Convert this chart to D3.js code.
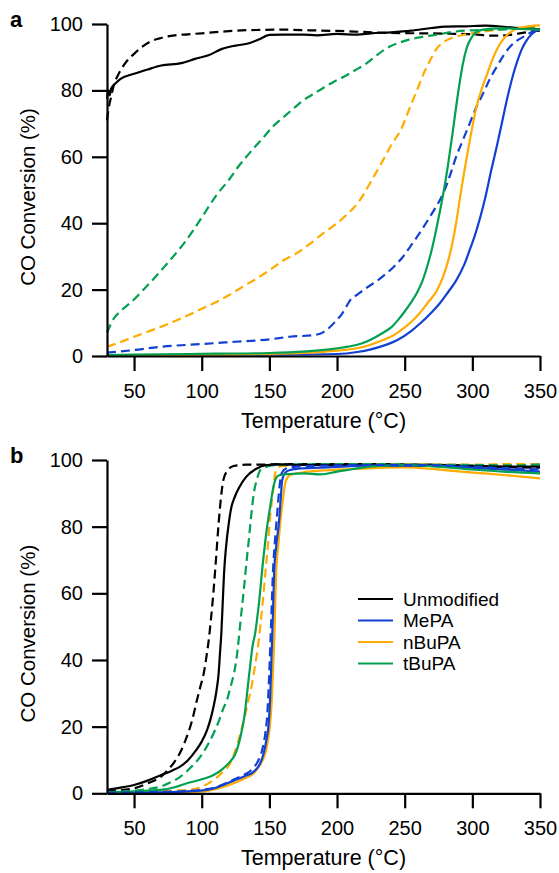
<!DOCTYPE html>
<html>
<head>
<meta charset="utf-8">
<script src="https://cdn.jsdelivr.net/npm/d3@7"></script>
<style>
    body { margin: 0; background: #fff; }
    svg text { font-family: "Liberation Sans", Arial, sans-serif; fill: #000; }
</style>
</head>
<body>
<div class="chart"></div>
<script>
// values: [temperature °C, CO conversion %]
const aUnmodSolid = [[30,77.5],[31,80],[32,78.5],[33,80.5],[36,82],[40,83.5],[50,85],[60,86.3],[70,87.5],[85,88.2],[95,89.5],[105,90.6],[115,92.5],[125,93.5],[135,94.2],[142,95.3],[150,96.7],[160,96.8],[175,96.8],[185,96.6],[200,97],[215,96.8],[225,97.2],[240,97.5],[255,98],[270,98.8],[280,99.2],[295,99.3],[310,99.5],[325,99.1],[340,98.6],[350,98.4]];
const aUnmodDashed = [[30,71],[31,74],[33,78],[35,81.5],[38,84.5],[40,86],[45,89],[50,91],[55,92.8],[62,94.7],[70,95.8],[80,96.6],[90,96.9],[100,97.2],[115,97.7],[125,98],[140,98.2],[160,98.3],[180,98.1],[200,97.9],[220,97.6],[240,97.3],[260,97.2],[280,97.1],[300,96.9],[315,96.5],[325,96.6],[335,97.2],[345,97.8],[350,98]];
const aMePASolid = [[30,0.2],[100,0.3],[150,0.4],[200,0.6],[215,1.2],[225,2],[235,3.2],[245,4.9],[255,7.6],[262,10],[270,13.2],[276,15.9],[282,19.2],[288,22.7],[294,27.5],[298,31.9],[302,36.5],[306,42],[310,48.5],[314,56],[318,63],[322,70.5],[326,78],[330,84.5],[333,88.5],[337,92.8],[340,95],[344,97],[347.5,98],[350,98.5]];
const aMePADashed = [[30,1],[50,1.8],[70,2.8],[100,3.6],[125,4.3],[150,5],[165,5.8],[183,6.3],[190,7.2],[195,8.8],[199,10.5],[203,12.3],[207,15],[210,17],[215,18.5],[220,20],[232,23.4],[242,26.9],[248,29.5],[254,32.9],[259,35.8],[264,38.9],[269,42.2],[274,45.5],[279,49.5],[284,55],[288,60],[293,65],[298,70],[303,75],[308,79.1],[313,83.5],[318,87.1],[323,90.5],[328,93.2],[333,95],[338,96.2],[343,97.4],[347.5,98.2],[350,98.6]];
const aNBuPASolid = [[30,0.2],[100,0.4],[150,0.6],[200,1.6],[220,2.8],[234,4.8],[242,6.3],[249,8.3],[255,10.3],[261,12.9],[267,16],[274,19.9],[278,23.5],[282,28.5],[285,33.5],[288,40],[291,48],[294,55.5],[297,62.5],[300,69],[303,75],[307,80.5],[311,85],[315,89.5],[319,93],[324,96],[330,98],[338,99.1],[350,99.6]];
const aNBuPADashed = [[30,2.8],[40,4.2],[50,5.8],[60,7.3],[70,8.8],[80,10.5],[90,12.3],[100,14.2],[110,16.1],[120,18.3],[130,20.8],[140,23.2],[150,25.8],[160,28.7],[170,30.9],[180,33.8],[190,37],[200,40],[207,42.5],[212,44.5],[217,47],[225,52.5],[234,59],[240,63.5],[247,68],[254,75],[261,82],[265,86],[269,89.2],[273,92.2],[277,94],[283,95.5],[289,96.3],[298,97.1],[308,97.7],[320,98.3],[335,98.9],[350,99.4]];
const aTBuPASolid = [[30,0.3],[70,0.5],[110,0.7],[150,0.9],[175,1.3],[200,2.3],[208,2.8],[215,3.4],[222,4.4],[228,5.6],[234,7],[240,8.6],[245,10.8],[250,13.4],[255,16.3],[259,19],[263,22.5],[267,27.5],[270,32],[273,37.5],[276,43.5],[279,50],[282,57.5],[285,66],[288,75],[290.5,82],[293,88],[296,93],[300,96.3],[305,98],[315,98.6],[323,98.7],[335,98.5],[350,98.3]];
const aTBuPADashed = [[30,7],[35,11.3],[40,13.5],[50,17],[57,20],[65,23.5],[72,26.7],[79,30],[87,34],[94,38],[100,41.7],[106,45.5],[111,48.5],[120,53],[127,57],[133,60],[140,63.3],[147,66.5],[153,69.3],[160,71.8],[168,74.6],[175,77],[183,79],[190,80.8],[198,82.7],[205,84.1],[213,86],[222,88.2],[230,90.8],[239,93.2],[247,94.5],[254,95.4],[263,96.1],[274,96.8],[285,97.6],[295,98],[310,98.2],[325,98.4],[350,98.8]];

const bUnmodSolid = [[30,1],[40,1.7],[50,2.5],[60,3.8],[70,5.5],[78,6.8],[84,8],[90,10],[96,13],[100,15.5],[104,19],[107,23],[109,26.5],[111,31],[112.5,36],[113.5,42],[114.5,48],[115.5,57],[116.5,66],[118,74],[120,81],[122,86],[124,88.5],[128,92],[133,95],[140,97.3],[148,98.5],[158,98.7],[175,98.5],[200,98.5],[250,98.3],[300,98.1],[350,98]];
const bUnmodDashed = [[30,0.5],[40,1],[50,1.5],[60,3],[70,5],[75,7],[80,9.5],[85,13],[89,17],[93,22],[96.5,28],[99,32],[101.5,36],[103.5,41],[105.2,46],[107,53],[108.8,61],[110.5,70],[112.5,81],[114.3,89],[116,94],[119,96.8],[123.6,98.2],[133,98.6],[143,98.6],[160,98.8],[200,98.8],[250,98.7],[300,98.3],[330,97.8],[350,97.7]];
const bMePASolid = [[30,0.2],[70,0.3],[99,0.8],[110,1.6],[123.6,3.8],[132,5.2],[138.5,6.5],[143,8.8],[145.8,12],[147.8,16],[149.5,21],[150.5,28],[151.2,36],[152,46],[152.8,56],[153.5,66],[155,74],[157,81],[158.5,89],[159.5,94],[162,96.3],[165.4,97],[175,97.5],[187.6,97.7],[224.5,98.3],[270,98.3],[298,97.7],[322,97.2],[350,96.5]];
const bMePADashed = [[30,0.2],[70,0.4],[99,1],[110,1.8],[123,4],[132,5.7],[138,7.5],[142,10],[145,13.5],[147,18],[148.5,24],[149.5,32],[150.3,40],[151,48],[151.8,57],[152.6,66],[154,75],[155.8,84],[157.5,92],[159,96],[162,97.4],[170,98],[190,98.3],[230,98.5],[270,98.4],[300,98],[330,97.4],[350,97.2]];
const bNBuPASolid = [[30,0.2],[70,0.3],[99,0.5],[110,1.2],[123.6,3],[132,4.5],[138.5,6],[143,8.5],[147,12],[149,16],[150.6,21],[151.8,28],[152.6,36],[153.6,46],[154.3,56],[155,66],[156.5,74],[158,81],[160,88],[161.7,93],[163.5,94.8],[165.4,95.5],[175,96.3],[187.6,96.8],[212,97.3],[249,97.8],[273.6,97.2],[298.3,96.3],[322.9,95.5],[350,94.5]];
const bNBuPADashed = [[30,0.3],[60,0.5],[89,1],[100,2],[108.8,4],[115,6.2],[121,9],[125,13],[128.6,18],[131.8,23],[134.6,28],[136.8,32],[138.5,36],[140.5,41],[142.2,46],[143.5,51],[145,57],[147,66],[148.8,74],[150.6,83],[152.5,90],[154.3,96],[156,97.5],[158,98.1],[170,98.4],[200,98.6],[250,98.7],[300,98.6],[330,98.8],[350,98.7]];
const bTBuPASolid = [[30,0.3],[50,0.6],[69.5,1],[80,1.8],[89,3],[100,4.2],[108.8,5.5],[116,7.5],[121,9.5],[124.5,11.5],[127.5,15],[129.7,19],[131.5,23],[133,28],[134.6,34],[136,39],[137.5,44],[139.5,48],[142,56],[145.7,71],[148,79],[150.6,86],[153,92],[155.6,95],[158,95.5],[165,95.8],[175.3,96],[187.6,95.7],[200,96.5],[212,97.3],[224.5,98],[249,98.5],[273.8,98],[298.3,97.2],[322.9,96.5],[350,96]];
const bTBuPADashed = [[30,0.3],[50,0.8],[60,1.3],[69.5,2],[77,3.3],[84.3,5],[92,7.8],[99,11],[104,14.2],[108.8,18],[113,22],[116,25.5],[118.7,28],[121,31.5],[123,34.5],[124.8,38],[126.2,42],[127.3,46],[128.5,51],[131.1,61],[133,69],[134.8,76],[136.5,83],[138.5,90],[141,94.5],[143.4,97],[148,98],[155.6,98.5],[180,98.7],[220,98.8],[260,98.6],[300,98.5],[330,98.4],[350,98.7]];

const legendLabels = ["Unmodified", "MePA", "nBuPA", "tBuPA"];
const xTicks = [50, 100, 150, 200, 250, 300, 350];
const yTicks = [0, 20, 40, 60, 80, 100];

const colors = ["#000000", "#1240d2", "#ffab00", "#02a050"];

const svgW = 559;
const svgH = 873;
const left = 107;
const right = 540;

const svg = d3
.select(".chart")
.append("svg")
.attr("width", svgW)
.attr("height", svgH);

const xScale = d3.scaleLinear()
.domain([30, 350])
.range([left, right]);

const line = d3.line()
.x(d => xScale(d[0]))
.curve(d3.curveMonotoneX);

function drawPanel(top, bottom, label, series, legend) {
    const yScale = d3.scaleLinear()
    .domain([0, 100])
    .range([bottom, top]);

    line.y(d => yScale(d[1]));

    const g = svg.append("g");

    series.forEach(s => {
        g.append("path")
        .attr("d", line(s.data))
        .attr("fill", "none")
        .attr("stroke", colors[s.c])
        .attr("stroke-width", 2.2)
        .attr("stroke-dasharray", s.dash ? "9,5" : null);
    });

    const xAxis = g.append("g")
    .attr("transform", `translate(0, ${bottom})`)
    .call(d3.axisBottom(xScale).tickValues(xTicks).tickSize(15).tickSizeOuter(0).tickPadding(13));

    const yAxis = g.append("g")
    .attr("transform", `translate(${left}, 0)`)
    .call(d3.axisLeft(yScale).tickValues(yTicks).tickSize(15).tickSizeOuter(0).tickPadding(9));

    [xAxis, yAxis].forEach(ax => {
        ax.select(".domain").attr("stroke-width", 2.2);
        ax.selectAll(".tick line").attr("stroke-width", 2.2);
        ax.selectAll(".tick text").style("font-size", "20px");
    });

    g.append("text")
    .text("Temperature (°C)")
    .attr("x", (left + right) / 2)
    .attr("y", bottom + 72)
    .style("text-anchor", "middle")
    .style("font-size", "21.5px");

    g.append("text")
    .text("CO Conversion (%)")
    .attr("transform", `translate(35, ${(top + bottom) / 2 + 7}) rotate(-90)`)
    .style("text-anchor", "middle")
    .style("font-size", "20.5px");

    g.append("text")
    .text(label)
    .attr("x", 10)
    .attr("y", top + 3)
    .style("font-size", "22px")
    .style("font-weight", "bold");

    if (legend) {
        const lg = g.append("g")
        .selectAll("g")
        .data(legendLabels)
        .enter()
        .append("g")
        .attr("transform", (d, i) => `translate(358, ${599 + i * 21.5})`);

        lg.append("line")
        .attr("x1", 0)
        .attr("x2", 35)
        .attr("stroke", (d, i) => colors[i])
        .attr("stroke-width", 2.2);

        lg.append("text")
        .text(d => d)
        .attr("x", 45)
        .attr("dy", "0.36em")
        .style("font-size", "19px");
    }
}

drawPanel(24, 356, "a", [
    { data: aUnmodDashed, c: 0, dash: true },
    { data: aMePADashed, c: 1, dash: true },
    { data: aNBuPADashed, c: 2, dash: true },
    { data: aTBuPADashed, c: 3, dash: true },
    { data: aUnmodSolid, c: 0 },
    { data: aMePASolid, c: 1 },
    { data: aNBuPASolid, c: 2 },
    { data: aTBuPASolid, c: 3 }
], false);

drawPanel(460, 793.3, "b", [
    { data: bUnmodDashed, c: 0, dash: true },
    { data: bNBuPADashed, c: 2, dash: true },
    { data: bTBuPADashed, c: 3, dash: true },
    { data: bUnmodSolid, c: 0 },
    { data: bNBuPASolid, c: 2 },
    { data: bMePASolid, c: 1 },
    { data: bTBuPASolid, c: 3 },
    { data: bMePADashed, c: 1, dash: true }
], true);
</script>
</body>
</html>
